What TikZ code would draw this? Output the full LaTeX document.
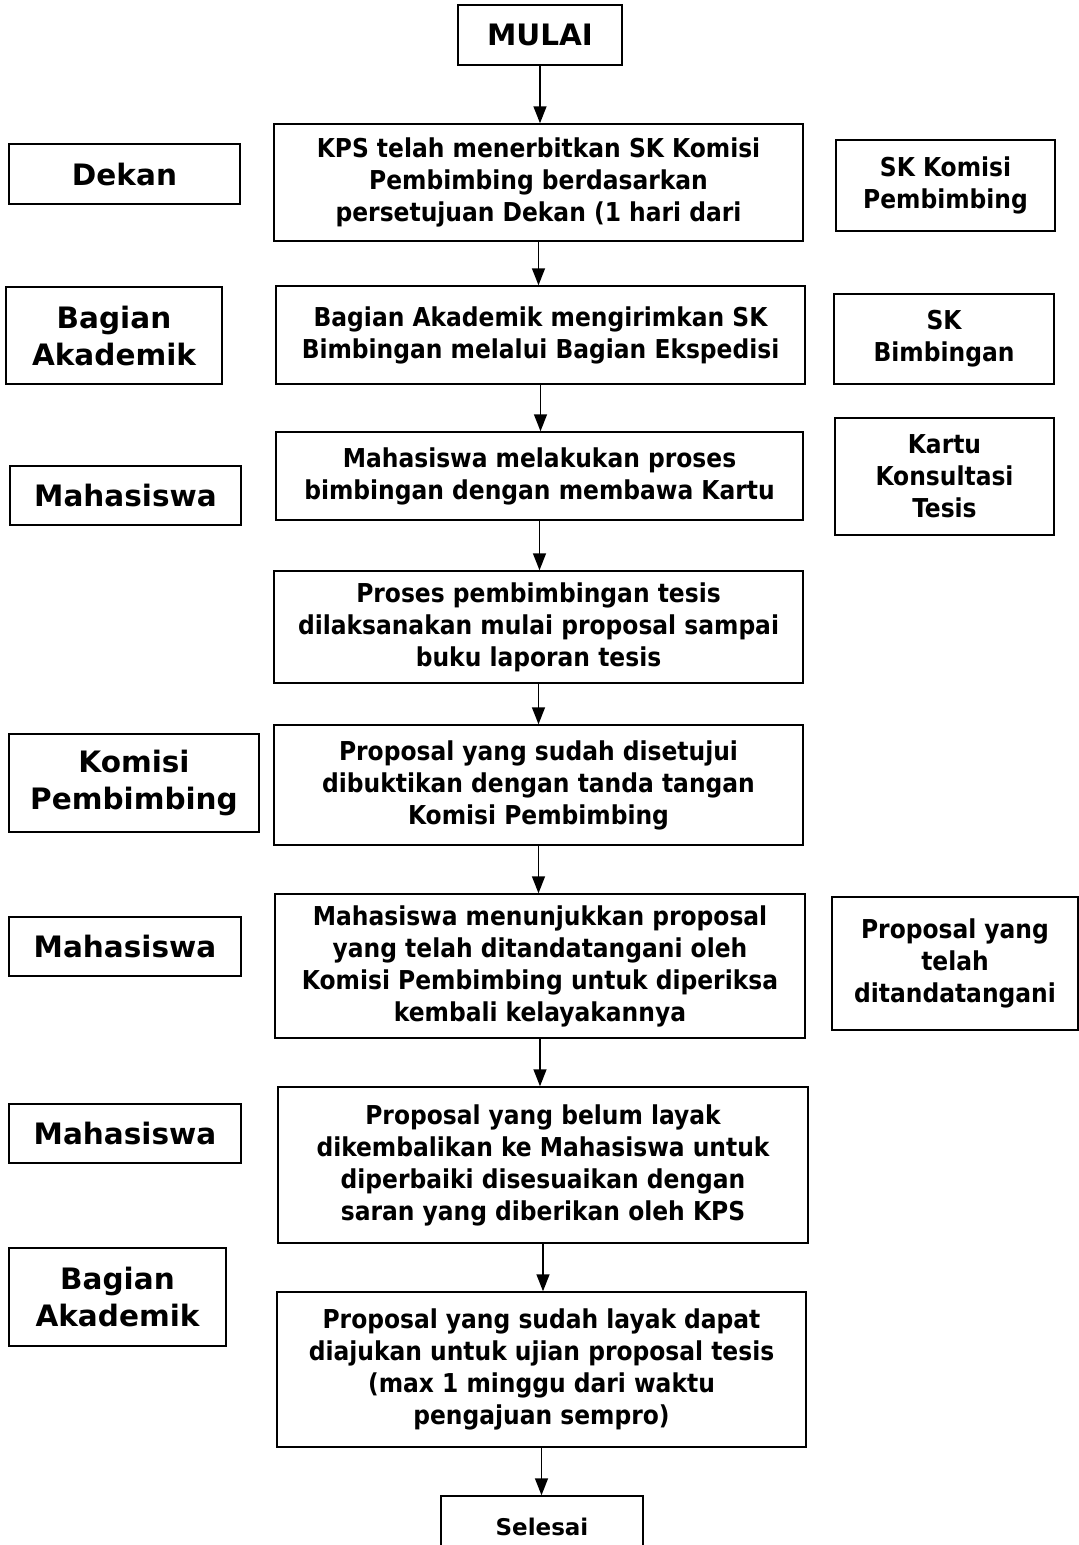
\documentclass[tikz,border=0pt]{standalone}
\usepackage{fontspec}
\setmainfont{DejaVu Sans}
\newfontfamily\condfont{DejaVu Sans Condensed}
\usetikzlibrary{arrows.meta}

\tikzset{
  box/.style={draw, line width=1.5pt, align=center, inner sep=0pt,
    font=\condfont\bfseries\fontsize{26}{32}\selectfont},
  side/.style={box, font=\bfseries\fontsize{29.5}{37}\selectfont},
  flow/.style={-{Triangle[width=13pt,length=17pt]}, line width=1.5pt},
}

\begin{document}
\begin{tikzpicture}[x=1pt,y=-1pt]
  \useasboundingbox (0,0) rectangle (1079,1545);
  % main column
  \node[side, minimum width=164pt, minimum height=60pt] (mulai) at (540,35) {MULAI};
  \node[box, minimum width=529pt, minimum height=117pt] (kps) at (538.5,182.5) {KPS telah menerbitkan SK Komisi\\Pembimbing berdasarkan\\persetujuan Dekan (1 hari dari};
  \node[box, minimum width=529pt, minimum height=98pt] (akd) at (540.5,335) {Bagian Akademik mengirimkan SK\\Bimbingan melalui Bagian Ekspedisi};
  \node[box, minimum width=527pt, minimum height=88pt] (bimb) at (539.5,476) {Mahasiswa melakukan proses\\bimbingan dengan membawa Kartu};
  \node[box, minimum width=529pt, minimum height=112pt] (proses) at (538.5,627) {Proses pembimbingan tesis\\dilaksanakan mulai proposal sampai\\buku laporan tesis};
  \node[box, minimum width=529pt, minimum height=120pt] (usul) at (538.5,785) {Proposal yang sudah disetujui\\dibuktikan dengan tanda tangan\\Komisi Pembimbing};
  \node[box, minimum width=530pt, minimum height=144pt] (tunjuk) at (540,966) {Mahasiswa menunjukkan proposal\\yang telah ditandatangani oleh\\Komisi Pembimbing untuk diperiksa\\kembali kelayakannya};
  \node[box, minimum width=530pt, minimum height=156pt] (belum) at (543,1165) {Proposal yang belum layak\\dikembalikan ke Mahasiswa untuk\\diperbaiki disesuaikan dengan\\saran yang diberikan oleh KPS};
  \node[box, minimum width=529pt, minimum height=155pt] (layak) at (541.5,1369.5) {Proposal yang sudah layak dapat\\diajukan untuk ujian proposal tesis\\(max 1 minggu dari waktu\\pengajuan sempro)};
  \node[box, font=\bfseries\fontsize{23}{28}\selectfont, minimum width=202pt, minimum height=62pt] (selesai) at (542,1527) {Selesai};

  % actors
  \node[side, minimum width=231pt, minimum height=60pt] (dekan) at (124.5,174) {Dekan};
  \node[side, minimum width=216pt, minimum height=97pt] (bagian1) at (114,335.5) {Bagian\\Akademik};
  \node[side, minimum width=231pt, minimum height=59pt] (mhs1) at (125.5,495.5) {Mahasiswa};
  \node[side, minimum width=250pt, minimum height=98pt] (komisi) at (134,783) {Komisi\\Pembimbing};
  \node[side, minimum width=232pt, minimum height=59pt] (mhs2) at (125,946.5) {Mahasiswa};
  \node[side, minimum width=232pt, minimum height=59pt] (mhs3) at (125,1133.5) {Mahasiswa};
  \node[side, minimum width=217pt, minimum height=98pt] (bagian2) at (117.5,1297) {Bagian\\Akademik};

  % documents
  \node[box, minimum width=219pt, minimum height=91pt] (skkomisi) at (945.5,185.5) {SK Komisi\\Pembimbing};
  \node[box, minimum width=220pt, minimum height=90pt] (skbim) at (944,339) {SK\\Bimbingan};
  \node[box, minimum width=219pt, minimum height=117pt] (kartu) at (944.5,476.5) {Kartu\\Konsultasi\\Tesis};
  \node[box, minimum width=246pt, minimum height=133pt] (ttd) at (955,963.5) {Proposal yang\\telah\\ditandatangani};

  % arrows
  \draw[flow] (mulai.south) -- (mulai.south |- kps.north);
  \draw[flow] (kps.south) -- (kps.south |- akd.north);
  \draw[flow] (akd.south) -- (akd.south |- bimb.north);
  \draw[flow] (bimb.south) -- (bimb.south |- proses.north);
  \draw[flow] (proses.south) -- (proses.south |- usul.north);
  \draw[flow] (usul.south) -- (usul.south |- tunjuk.north);
  \draw[flow] (tunjuk.south) -- (tunjuk.south |- belum.north);
  \draw[flow] (belum.south) -- (belum.south |- layak.north);
  \draw[flow] (layak.south) -- (layak.south |- selesai.north);
\end{tikzpicture}
\end{document}
